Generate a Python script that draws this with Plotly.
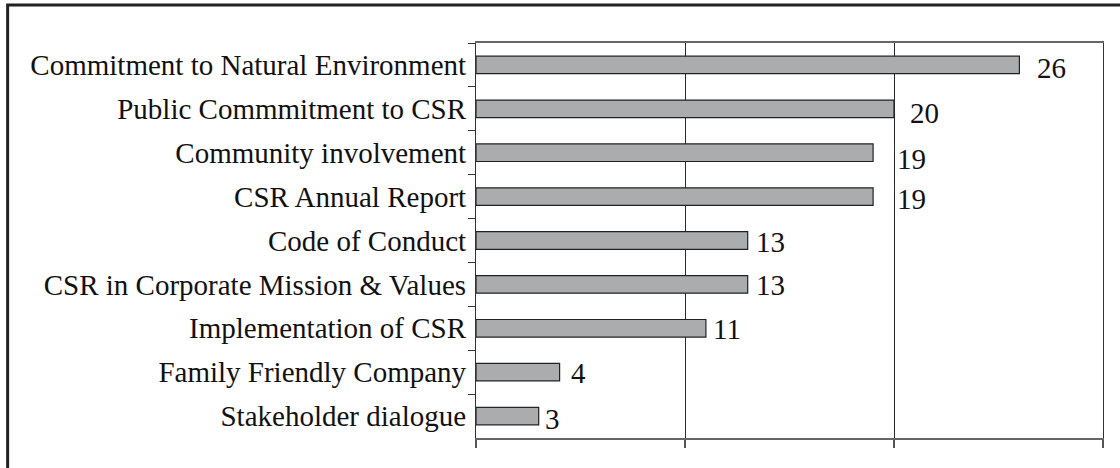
import plotly.graph_objects as go

categories = [
    "Commitment to Natural Environment",
    "Public Commmitment to CSR",
    "Community involvement",
    "CSR Annual Report",
    "Code of Conduct",
    "CSR in Corporate Mission & Values",
    "Implementation of CSR",
    "Family Friendly Company",
    "Stakeholder dialogue",
]
values = [26, 20, 19, 19, 13, 13, 11, 4, 3]
label_shift = [16, 14, 22, 22, 6, 6, 5, 9, 4]
label_yshift = [-3, -4, -6, -2, -1, -1, -1, -1, -3]

fig = go.Figure()
fig.add_trace(go.Bar(
    y=categories, x=values, orientation="h",
    marker=dict(color="#aaacae", line=dict(color="#222222", width=1.2)),
    width=0.4, hoverinfo="skip",
))
for c, v, xs, ys in zip(categories, values, label_shift, label_yshift):
    fig.add_annotation(x=v, y=c, text=str(v), showarrow=False, xanchor="left",
                       xshift=xs, yshift=ys,
                       font=dict(family="Liberation Serif", size=29, color="#111111"))

fig.update_layout(
    width=1120, height=468,
    margin=dict(l=476, r=17, t=43, b=30),
    paper_bgcolor="white", plot_bgcolor="white",
    showlegend=False,
    font=dict(family="Liberation Serif", size=29, color="#111111"),
    shapes=[dict(type="rect", xref="paper", yref="paper",
                 x0=-0.747, x1=1.2, y0=-0.2, y1=1.0962,
                 line=dict(color="#222222", width=3), layer="below")],
)
fig.update_xaxes(range=[0, 30], tickvals=[0, 10, 20, 30], showticklabels=False,
                 ticks="outside", ticklen=8, tickcolor="#555555", tickwidth=1.5,
                 showgrid=True, gridcolor="#2a2a2a", gridwidth=1,
                 showline=True, linecolor="#666666", linewidth=1.5, mirror=True,
                 zeroline=False)
fig.update_yaxes(autorange="reversed", ticks="outside", ticklen=7, tickson="boundaries",
                 tickcolor="#333333", tickwidth=1, showline=True, linecolor="#333333",
                 linewidth=1.2, mirror=True, showgrid=False, ticklabelstandoff=3)
fig.write_html("out.html", config={"displayModeBar": False},
               post_script="document.body.style.margin='0px';")
